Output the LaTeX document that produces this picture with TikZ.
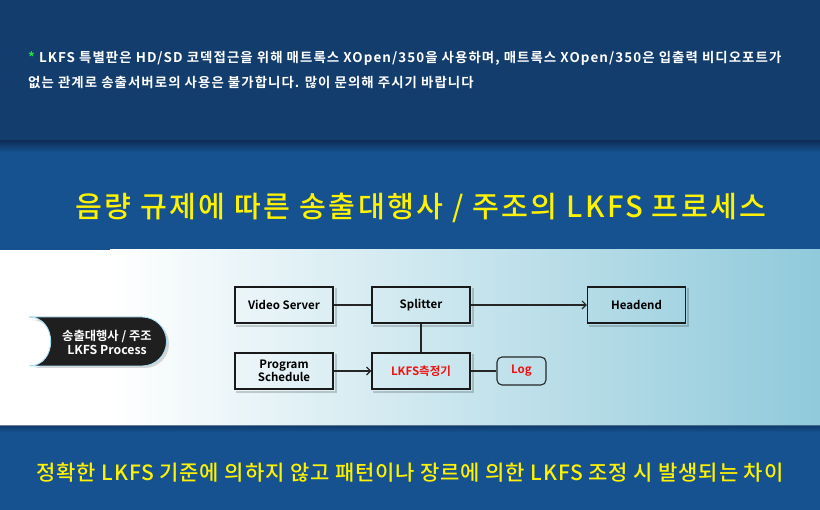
\documentclass[tikz,border=0pt]{standalone}
\usepackage{fontspec}
\setmainfont{Noto Sans CJK KR}
\newfontfamily\krb{Noto Sans CJK KR Bold}
\newfontfamily\krbsp[LetterSpace=8]{Noto Sans CJK KR Bold}
\newfontfamily\krtitle[LetterSpace=8]{Noto Sans CJK KR Medium}
\newfontfamily\krbottom[LetterSpace=4]{Noto Sans CJK KR Medium}
\usetikzlibrary{arrows.meta}
\definecolor{topblue}{HTML}{133D6D}
\definecolor{midblue}{HTML}{15528F}
\definecolor{shadowblue}{HTML}{0E2F5A}
\definecolor{lightend}{HTML}{90CADB}
\definecolor{ttlyellow}{HTML}{FFF200}
\definecolor{astgreen}{HTML}{22DD44}
\definecolor{lkfsred}{HTML}{EE1111}
\tikzset{
  x=1pt,y=-1pt,
  procbox/.style={draw=black!90,line width=1.4pt,minimum width=98pt,minimum height=36pt,inner sep=0pt,font=\krb\fontsize{11.5}{13}\selectfont,align=center},
  logbox/.style={draw=black!85,line width=1.1pt,rounded corners=5pt,minimum width=49pt,minimum height=28pt,inner sep=0pt,font=\krb\fontsize{11.5}{13}\selectfont,text=lkfsred},
  boxshadow/.style={draw=black,opacity=0.18,line width=2pt},
  conn/.style={draw=black!85,line width=1.1pt},
  arr/.style={conn,-{Straight Barb[length=4pt,width=8pt]}},
  notetext/.style={anchor=west,text=white,font=\krbsp\fontsize{13.4}{15}\selectfont,inner sep=0pt},
}
\begin{document}
\begin{tikzpicture}
\useasboundingbox (0,0) rectangle (820,510);
% backgrounds
\fill[topblue] (0,0) rectangle (820,142);
\shade[top color=shadowblue,bottom color=midblue] (0,141) rectangle (820,152);
\fill[midblue] (0,152) rectangle (820,250);
\fill[white] (0,250) rectangle (110,426);
\shade[left color=white,right color=lightend] (110,250) rectangle (820,426);
\fill[midblue] (0,426) rectangle (820,510);
\shade[top color=shadowblue,bottom color=midblue,opacity=0.6] (0,426) rectangle (820,432);
% top note
\node[notetext] (note1) at (28,58) {{\color{astgreen}*} LKFS 특별판은 HD/SD 코덱접근을 위해 매트록스 XOpen/350을 사용하며, 매트록스 XOpen/350은 입출력 비디오포트가};
\node[notetext] (note2) at (28,82) {없는 관계로 송출서버로의 사용은 불가합니다. 많이 문의해 주시기 바랍니다};
% title
\node[text=ttlyellow,font=\krtitle\fontsize{29.2}{32}\selectfont,inner sep=0pt] (title) at (421,208) {음량 규제에 따른 송출대행사 / 주조의 LKFS 프로세스};
% bottom
\node[text=ttlyellow,font=\krbottom\fontsize{21}{24}\selectfont,inner sep=0pt] (bottom) at (410,473) {정확한 LKFS 기준에 의하지 않고 패턴이나 장르에 의한 LKFS 조정 시 발생되는 차이};
% left tab
\fill[black!30,opacity=0.5] (32,320) -- (145,320) arc[start angle=-90,end angle=90,radius=24] -- (32,368) .. controls (60,368) and (60,320) .. (32,320) -- cycle;
\draw[fill=black!88,draw=cyan!35!white,line width=0.8pt] (29,317) -- (142,317) arc[start angle=-90,end angle=90,radius=24.5] -- (29,366) .. controls (58,366) and (58,317) .. (29,317) -- cycle;
\node[text=white,font=\krb\fontsize{12.3}{14}\selectfont,align=center,inner sep=0pt] (tab) at (107,342) {송출대행사 / 주조\\LKFS Process};
% nodes
\node[procbox] (vs) at (284,305) {Video Server};
\node[procbox] (sp) at (421,305) {Splitter};
\node[procbox] (he) at (636.5,305) {Headend};
\node[procbox] (ps) at (284,371) {Program\\Schedule};
\node[procbox,text=lkfsred] (lk) at (421,371) {LKFS측정기};
\node[logbox] (log) at (521.5,371) {Log};
% box shadows
\foreach \n in {vs,sp,he,ps,lk}{
  \draw[boxshadow] ([shift={(2.2pt,-2pt)}]\n.north east) -- ([shift={(2.2pt,-2.2pt)}]\n.south east) -- ([shift={(2pt,-2.2pt)}]\n.south west);
}
% connectors
\draw[conn] (vs) -- (sp);
\draw[arr] (sp) -- (he);
\draw[conn] (sp) -- (lk);
\draw[arr] (ps) -- (lk);
\draw[conn] (lk) -- (log);
\end{tikzpicture}
\end{document}
